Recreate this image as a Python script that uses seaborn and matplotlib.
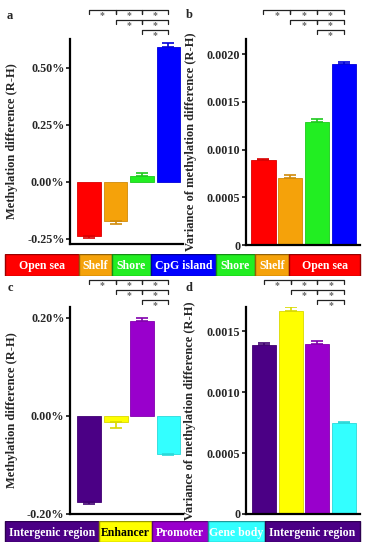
import numpy as np
import pandas as pd
import seaborn as sns
import matplotlib.pyplot as plt
from matplotlib.transforms import blended_transform_factory
from matplotlib.ticker import FuncFormatter
from matplotlib.colors import to_rgb

# ---- data ----
cpg_cats = ["Open sea", "Shelf", "Shore", "CpG island"]
cpg_colors = ["#ff0000", "#f5a20a", "#22ee22", "#0000ff"]
cpg_diff = [-0.238, -0.171, 0.026, 0.594]          # percent
cpg_diff_err = [0.007, 0.013, 0.013, 0.016]
cpg_var = [0.000895, 0.000702, 0.00129, 0.00190]
cpg_var_err = [0.000006, 0.00003, 0.00003, 0.00002]

gen_cats = ["Intergenic region", "Enhancer", "Promoter", "Gene body"]
gen_colors = ["#4b0085", "#ffff00", "#9900cc", "#33ffff"]
gen_diff = [-0.176, -0.014, 0.194, -0.078]          # percent
gen_diff_err = [0.004, 0.012, 0.006, 0.003]
gen_var = [0.001385, 0.00167, 0.00140, 0.000746]
gen_var_err = [0.00002, 0.00003, 0.00002, 0.00001]

# significance grid (pairs of bar indices, one list per row)
sig_rows = [[(0, 1), (1, 2), (2, 3)], [(1, 2), (2, 3)], [(2, 3)]]

# category strips under the panels
top_strip = ["Open sea", "Shelf", "Shore", "CpG island", "Shore", "Shelf", "Open sea"]
top_strip_colors = ["#ff0000", "#f5a20a", "#22ee22", "#0000ff", "#22ee22", "#f5a20a", "#ff0000"]
top_strip_text = ["white"] * 7
bot_strip = ["Intergenic region", "Enhancer", "Promoter", "Gene body", "Intergenic region"]
bot_strip_colors = ["#4b0085", "#ffff00", "#9900cc", "#33ffff", "#4b0085"]
bot_strip_text = ["white", "black", "white", "white", "white"]

W, H = 367, 550
sns.set_style("ticks")
plt.rcParams["font.family"] = ["Liberation Serif", "DejaVu Serif"]
plt.rcParams["font.weight"] = "bold"
plt.rcParams["axes.labelweight"] = "bold"

fig = plt.figure(figsize=(W / 100, H / 100), dpi=100)


def px_axes(x0, y0, x1, y1):
    return fig.add_axes([x0 / W, 1 - y1 / H, (x1 - x0) / W, (y1 - y0) / H])


def darker(c, f=0.6):
    r, g, b = to_rgb(c)
    return (r * f, g * f, b * f)


def bar_panel(ax, cats, vals, errs, colors, xlim, ylim, ticks, fmt, ylabel, labx):
    df = pd.DataFrame({"cat": cats, "val": vals})
    sns.barplot(data=df, x="cat", y="val", hue="cat", palette=colors, legend=False,
                errorbar=None, width=0.9, saturation=1, ax=ax, order=cats)
    for p, c in zip(ax.patches, colors):
        p.set_edgecolor(darker(c, 0.85))
        p.set_linewidth(0.6)
    for i, (v, e, c) in enumerate(zip(vals, errs, colors)):
        yerr = [[e], [0]] if v < 0 else [[0], [e]]
        ax.errorbar(i, v, yerr=yerr, fmt="none", ecolor=darker(c, 0.85),
                    elinewidth=1.2, capsize=4, capthick=1.2)
    ax.set_xlim(*xlim)
    ax.set_ylim(*ylim)
    ax.set_yticks(ticks)
    ax.yaxis.set_major_formatter(FuncFormatter(fmt))
    ax.set_xticks([])
    ax.set_xlabel("")
    ax.set_ylabel(ylabel, fontsize=9, fontweight="bold")
    ax.yaxis.set_label_coords(labx, 0.5)
    ax.tick_params(axis="y", labelsize=8.7, width=1.3, length=3, pad=1)
    for s in ["top", "right"]:
        ax.spines[s].set_visible(False)
    for s in ["left", "bottom"]:
        ax.spines[s].set_linewidth(1.6)
        ax.spines[s].set_color("black")


def brackets(ax, row_px):
    tr = blended_transform_factory(ax.transData, fig.transFigure)
    for row, ypx in zip(sig_rows, row_px):
        y = 1 - ypx / H
        dy = 4 / H
        for a, b in row:
            ax.plot([a, a, b, b], [y - dy, y, y, y - dy], color="#222222", lw=0.9,
                    transform=tr, clip_on=False)
            ax.text((a + b) / 2, y - 1.5 / H, "*", color="#666666", fontsize=7,
                    ha="center", va="top", transform=tr)


def strip(y0, y1, labels, colors, tcolors, edges):
    ax = px_axes(0, y0, W, y1)
    ax.set_xlim(0, W)
    ax.set_ylim(0, 1)
    left = edges[:-1]
    widths = np.diff(edges)
    ax.barh([0.5] * len(labels), widths, left=left, height=1.0, color=colors,
            edgecolor=[darker(c, 0.6) for c in colors], linewidth=1.0)
    for lab, l, w, tc in zip(labels, left, widths, tcolors):
        ax.text(l + w / 2, 0.45, lab, color=tc, ha="center", va="center",
                fontsize=8.5, fontweight="bold")
    ax.axis("off")


pct = lambda v, p: f"{v:.2f}%"
var = lambda v, p: "0" if abs(v) < 1e-12 else f"{v:.4f}"

ax_a = px_axes(70, 39, 183, 244)
bar_panel(ax_a, cpg_cats, cpg_diff, cpg_diff_err, cpg_colors, (-0.72, 3.55),
          (-0.272, 0.627), [-0.25, 0, 0.25, 0.5], pct,
          "Methylation difference (R-H)", -0.46)
brackets(ax_a, [10, 20, 30])

ax_b = px_axes(246, 39, 360, 245)
bar_panel(ax_b, cpg_cats, cpg_var, cpg_var_err, cpg_colors, (-0.65, 3.6),
          (0, 0.00216), [0, 0.0005, 0.001, 0.0015, 0.002], var,
          "Variance of methylation difference (R-H)", -0.43)
brackets(ax_b, [10, 20, 30])

ax_c = px_axes(70, 307, 183, 514)
bar_panel(ax_c, gen_cats, gen_diff, gen_diff_err, gen_colors, (-0.73, 3.55),
          (-0.201, 0.222), [-0.2, 0, 0.2], pct,
          "Methylation difference (R-H)", -0.46)
brackets(ax_c, [280, 290, 300])

ax_d = px_axes(246, 307, 360, 514)
bar_panel(ax_d, gen_cats, gen_var, gen_var_err, gen_colors, (-0.68, 3.6),
          (0, 0.0017), [0, 0.0005, 0.001, 0.0015], var,
          "Variance of methylation difference (R-H)", -0.44)
brackets(ax_d, [280, 290, 300])

strip(254, 276, top_strip, top_strip_colors, top_strip_text,
      [5, 79, 112, 151, 216, 255, 289, 360])
strip(521, 542, bot_strip, bot_strip_colors, bot_strip_text,
      [5, 99, 152, 208, 265, 360])

for lab, x, y in [("a", 10, 16), ("b", 189, 15), ("c", 10, 288), ("d", 189, 288)]:
    fig.text(x / W, 1 - y / H, lab, fontsize=9, fontweight="bold", ha="center", va="center")

fig.savefig("out.png", dpi=100)
